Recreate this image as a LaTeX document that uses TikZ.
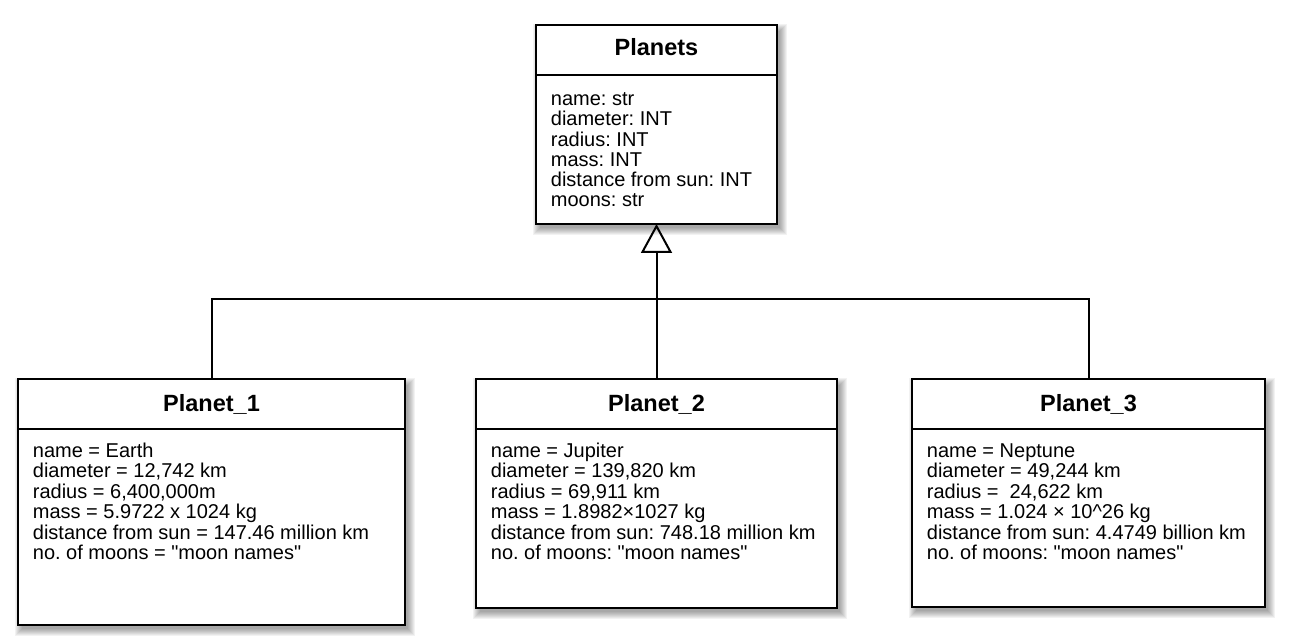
\documentclass[tikz,border=0pt]{standalone}
\usepackage{fontspec}
\setmainfont{Liberation Sans}
\usetikzlibrary{arrows.meta}
\frenchspacing
\newcommand\myshadow[4]{%
  \foreach \k in {0,1,...,7}{%
    \fill[black,opacity=0.05] ({#1+4-\k},{#2+6-\k}) rectangle ({#3+3+\k},{#4+4+\k});
  }}
\newcommand\bodytext[1]{\begin{tabular}[t]{@{}l@{}}#1\end{tabular}}
\newcommand\qq{\textquotedbl}
\tikzset{
  box/.style={draw=black, line width=2pt, fill=white, anchor=north west, inner sep=0pt, outer sep=0pt},
  divider/.style={line width=2pt},
  head/.style={font=\fontsize{23.5}{26}\selectfont\bfseries, anchor=base, inner sep=0pt},
  body/.style={font=\fontsize{20}{19.8}\selectfont, anchor=base west, inner sep=0pt},
  link/.style={line width=2pt, draw=black},
}
\begin{document}
\begin{tikzpicture}[x=1pt,y=-1pt]
\useasboundingbox (0,0) rectangle (1294,644);
% shadows
\myshadow{536}{25}{777}{224}
\myshadow{18}{379}{405}{625}
\myshadow{476}{379}{837}{608}
\myshadow{912}{379}{1265}{607}
% boxes
\node[box, minimum width=241pt, minimum height=199pt] (planets) at (536,25) {};
\node[box, minimum width=387pt, minimum height=246pt] (p1) at (18,379) {};
\node[box, minimum width=361pt, minimum height=229pt] (p2) at (476,379) {};
\node[box, minimum width=353pt, minimum height=228pt] (p3) at (912,379) {};
% dividers
\draw[divider] (planets.west |- 0,75) -- (planets.east |- 0,75);
\draw[divider] (p1.west |- 0,429) -- (p1.east |- 0,429);
\draw[divider] (p2.west |- 0,429) -- (p2.east |- 0,429);
\draw[divider] (p3.west |- 0,429) -- (p3.east |- 0,429);
% headers
\node[head] (planetsh) at (656.5,56) {Planets};
\node[head] (p1h) at (211.5,412) {Planet\_1};
\node[head] (p2h) at (656.5,412) {Planet\_2};
\node[head] (p3h) at (1088.5,412) {Planet\_3};
% bodies
\node[body] (planetsb) at (550.7,105.5) {\bodytext{name: str\\ diameter: INT\\ radius: INT\\ mass: INT\\ distance from sun: INT\\ moons: str}};
\node[body] (p1b) at (32.7,457.3) {\bodytext{name = Earth\\ diameter = 12,742 km\\ radius = 6,400,000m\\ mass = 5.9722 x 1024 kg\\ distance from sun = 147.46 million km\\ no. of moons = \qq moon names\qq}};
\node[body] (p2b) at (490.7,457.3) {\bodytext{name = Jupiter\\ diameter = 139,820 km\\ radius = 69,911 km\\ mass = 1.8982×1027 kg\\ distance from sun: 748.18 million km\\ no. of moons: \qq moon names\qq}};
\node[body] (p3b) at (926.7,457.3) {\bodytext{name = Neptune\\ diameter = 49,244 km\\ radius = \ 24,622 km\\ mass = 1.024 × 10\textasciicircum 26 kg\\ distance from sun: 4.4749 billion km\\ no. of moons: \qq moon names\qq}};
% connectors
\coordinate (j) at (656.5,299);
\draw[link] (p1.north) |- (j) -| (p3.north);
\draw[link, -{Triangle[open, length=29pt, width=31pt, line width=2pt]}] (p2.north) -- (planets.south);
\end{tikzpicture}
\end{document}
